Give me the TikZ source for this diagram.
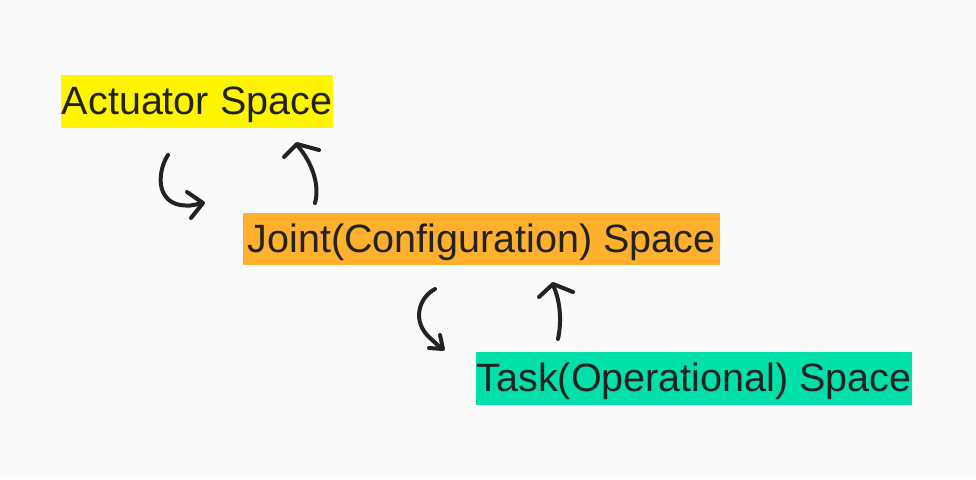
\documentclass[tikz,border=0pt]{standalone}
\usepackage{fontspec}
\setmainfont{Liberation Sans}
\usetikzlibrary{positioning}

\definecolor{bgpaper}{HTML}{FAFAFA}
\definecolor{inkdark}{HTML}{222222}
\definecolor{hlyellow}{HTML}{FFF500}
\definecolor{hlorange}{HTML}{FFB02E}
\definecolor{hlteal}{HTML}{00E0A8}

\tikzset{
	spacebox/.style={inner sep=0pt, text=inkdark, text height=32pt, text depth=6pt, font=\fontsize{39.5}{46}\selectfont},
	scribble/.style={draw=inkdark, line width=4pt, line cap=round, line join=round}
}

\begin{document}
\begin{tikzpicture}[x=1pt,y=-1pt]

% page, pixel units with y going down
\fill [bgpaper] (0,0) rectangle (976,479);
\useasboundingbox (0,0) rectangle (976,479);

% the three spaces
\node [spacebox, fill=hlyellow, minimum width=272pt, minimum height=53pt] (actuator) at (197,101.5) {Actuator Space};
\node [spacebox, fill=hlorange, minimum width=477pt, minimum height=52pt] (joint) at (481.5,239) {Joint(Configuration) Space};
\node [spacebox, fill=hlteal, minimum width=436pt, minimum height=53pt] (task) at (694,378.5) {Task(Operational) Space};

% hand drawn arrows, actuator <-> joint
\draw [scribble] (168,155) .. controls (158,170) and (155,200) .. (180,205) .. controls (190,206) .. (202,203);
\draw [scribble] (187,192) -- (203,203) -- (191,218);
\draw [scribble] (315,203) .. controls (320,185) and (312,162) .. (297,145);
\draw [scribble] (284,157) -- (297,144) -- (319,150);

% hand drawn arrows, joint <-> task
\draw [scribble] (435,289) .. controls (418,298) and (412,322) .. (430,338) .. controls (436,343) .. (442,349);
\draw [scribble] (440,335) -- (443,349) -- (429,348);
\draw [scribble] (558,339) .. controls (562,320) and (560,300) .. (553,285);
\draw [scribble] (539,297) -- (553,284) -- (573,292);

\end{tikzpicture}
\end{document}
